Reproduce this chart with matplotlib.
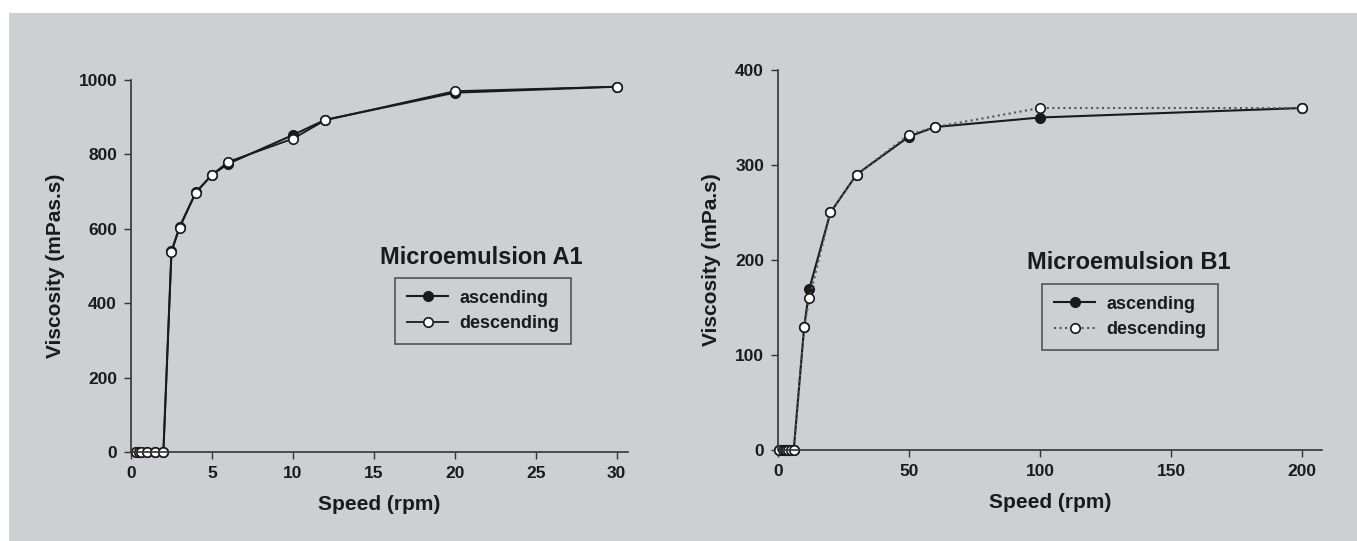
import matplotlib.pyplot as plt
from matplotlib.patches import Rectangle

plt.rcParams['font.family'] = ['Liberation Sans', 'DejaVu Sans']
plt.rcParams['font.weight'] = 'bold'

# Microemulsion A1 data
a1_speed_asc = [0.3, 0.5, 0.6, 1, 1.5, 2, 2.5, 3, 4, 5, 6, 10, 12, 20, 30]
a1_visc_asc = [0, 0, 0, 0, 0, 0, 540, 605, 698, 745, 775, 852, 893, 966, 982]
a1_speed_desc = [0.3, 0.5, 0.6, 1, 1.5, 2, 2.5, 3, 4, 5, 6, 10, 12, 20, 30]
a1_visc_desc = [0, 0, 0, 0, 0, 0, 538, 603, 697, 745, 780, 842, 892, 970, 982]

# Microemulsion B1 data
b1_speed_asc = [0.5, 2, 2.5, 3, 4, 5, 6, 10, 12, 20, 30, 50, 60, 100, 200]
b1_visc_asc = [0, 0, 0, 0, 0, 0, 0, 130, 170, 250, 290, 330, 340, 350, 360]
b1_speed_desc = [0.5, 2, 2.5, 3, 4, 5, 6, 10, 12, 20, 30, 50, 60, 100, 200]
b1_visc_desc = [0, 0, 0, 0, 0, 0, 0, 130, 160, 250, 290, 332, 340, 360, 360]

W, H = 1357, 541
bg = '#cdd0d3'
fig = plt.figure(figsize=(W / 100, H / 100), dpi=100, facecolor='white')
fig.patches.append(Rectangle((9 / W, 0), 1 - 9 / W, 1 - 13 / H,
                             transform=fig.transFigure, facecolor=bg,
                             edgecolor='none', zorder=-10))

ax1 = fig.add_axes([131 / W, 89 / H, 497 / W, 372 / H])
ax2 = fig.add_axes([778 / W, 91 / H, 544 / W, 380 / H])


def style(ax):
    ax.set_facecolor('none')
    for s in ['top', 'right']:
        ax.spines[s].set_visible(False)
    for s in ['left', 'bottom']:
        ax.spines[s].set_color('#333333')
        ax.spines[s].set_linewidth(1.2)
    ax.tick_params(direction='out', length=5, width=1.0, color='#333333',
                   labelsize=12.5, labelcolor='#1a1a1a', pad=5)
    for lab in ax.get_xticklabels() + ax.get_yticklabels():
        lab.set_fontweight('bold')


def add_legend(ax, x, y):
    leg = ax.legend(loc='upper left', bbox_to_anchor=(x / W, 1 - y / H),
                    bbox_transform=fig.transFigure, borderaxespad=0,
                    fontsize=13, frameon=True, fancybox=False,
                    handlelength=2.3, handletextpad=0.6, borderpad=0.65,
                    labelspacing=0.45)
    leg.get_frame().set_edgecolor('#333333')
    leg.get_frame().set_facecolor('none')
    leg.get_frame().set_linewidth(1.2)
    for t in leg.get_texts():
        t.set_fontweight('bold')
        t.set_color('#1a1a1a')


mk = dict(markersize=6.8, markeredgewidth=1.2, clip_on=False)

# left panel
ax1.plot(a1_speed_asc, a1_visc_asc, '-o', color='#1a1a1a', lw=1.5,
         markerfacecolor='#1a1a1a', markeredgecolor='#1a1a1a',
         label='ascending', **mk)
ax1.plot(a1_speed_desc, a1_visc_desc, '-o', color='#1a1a1a', lw=1.3,
         markerfacecolor='white', markeredgecolor='#1a1a1a',
         label='descending', **mk)
ax1.set_xlim(0, 30.7)
ax1.set_ylim(0, 1000)
ax1.set_xticks([0, 5, 10, 15, 20, 25, 30])
ax1.set_yticks([0, 200, 400, 600, 800, 1000])
style(ax1)
ax1.set_xlabel('Speed (rpm)', fontsize=15, fontweight='bold', labelpad=10,
               color='#1a1a1a')
ax1.set_ylabel('Viscosity (mPas.s)', fontsize=15, fontweight='bold',
               labelpad=10, color='#1a1a1a')
fig.text(380 / W, 1 - 257 / H, 'Microemulsion A1', fontsize=17,
         fontweight='bold', ha='left', va='center', color='#1a1a1a')
add_legend(ax1, 395, 278)

# right panel
ax2.plot(b1_speed_asc, b1_visc_asc, '-o', color='#1a1a1a', lw=1.5,
         markerfacecolor='#1a1a1a', markeredgecolor='#1a1a1a',
         label='ascending', **mk)
ax2.plot(b1_speed_desc, b1_visc_desc, ':o', color='#555555', lw=1.5,
         markerfacecolor='white', markeredgecolor='#1a1a1a',
         label='descending', **mk)
ax2.set_xlim(0, 207.6)
ax2.set_ylim(0, 400)
ax2.set_xticks([0, 50, 100, 150, 200])
ax2.set_yticks([0, 100, 200, 300, 400])
style(ax2)
ax2.set_xlabel('Speed (rpm)', fontsize=15, fontweight='bold', labelpad=10,
               color='#1a1a1a')
ax2.set_ylabel('Viscosity (mPa.s)', fontsize=15, fontweight='bold',
               labelpad=10, color='#1a1a1a')
fig.text(1027 / W, 1 - 263 / H, 'Microemulsion B1', fontsize=17,
         fontweight='bold', ha='left', va='center', color='#1a1a1a')
add_legend(ax2, 1042, 284)

fig.savefig('out.png', dpi=100, facecolor=fig.get_facecolor())
